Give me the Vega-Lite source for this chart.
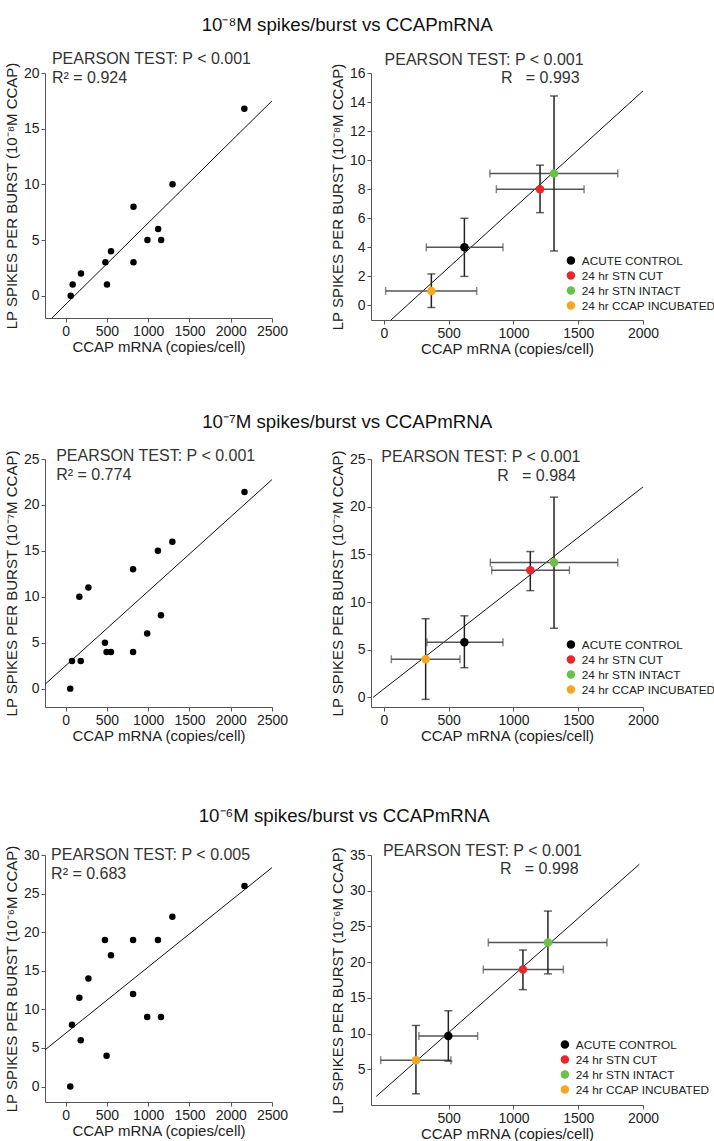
{
  "$schema": "https://vega.github.io/schema/vega-lite/v6.json",
  "background": "white",
  "padding": {"left": 4, "top": 15, "right": 0, "bottom": 0},
  "config": {
    "font": "Liberation Sans",
    "view": {"stroke": null},
    "axis": {"grid": false, "domainColor": "#555", "tickColor": "#555", "labelColor": "#222", "titleColor": "#222", "labelFontSize": 14, "titleFontSize": 15, "titleFontWeight": "normal", "tickSize": 4, "labelPadding": 2, "format": "d", "labelFlush": false, "labelOverlap": false},
    "axisX": {"titlePadding": 1},
    "title": {"fontSize": 18.7, "fontWeight": "normal", "color": "#111", "anchor": "middle", "offset": 17, "dx": -13},
    "legend": {"orient": "none", "labelFontSize": 11.8, "labelColor": "#222", "symbolType": "circle", "symbolSize": 72, "symbolStrokeWidth": 0, "clipHeight": 15, "rowPadding": 0, "labelOffset": 5},
    "text": {"font": "Liberation Sans"}
  },
  "spacing": 56,
  "resolve": {"scale": {"color": "independent"}, "legend": {"color": "independent"}},
  "vconcat": [
    {
      "title": "10⁻⁸M spikes/burst vs CCAPmRNA",
      "spacing": 42,
      "resolve": {"scale": {"color": "independent"}, "legend": {"color": "independent"}},
      "hconcat": [
        {
          "width": 227, "height": 245,
          "encoding": {
            "x": {"field": "x", "type": "quantitative", "title": "CCAP mRNA (copies/cell)", "scale": {"domain": [-250, 2500], "nice": false, "zero": false}, "axis": {"values": [0, 500, 1000, 1500, 2000, 2500]}},
            "y": {"field": "y", "type": "quantitative", "title": "LP SPIKES PER BURST (10⁻⁸M CCAP)", "scale": {"domain": [-2, 20], "nice": false, "zero": false}, "axis": {"values": [0, 5, 10, 15, 20]}}
          },
          "layer": [
            {"data": {"values": [{"x": -166, "y": -2}, {"x": 2500, "y": 17.5}]}, "mark": {"type": "line", "color": "#111", "strokeWidth": 1}, "encoding": {}},
            {"data": {"values": [
              {"x": 61, "y": 0}, {"x": 85, "y": 1}, {"x": 186, "y": 2}, {"x": 482, "y": 3}, {"x": 501, "y": 1}, {"x": 550, "y": 4}, {"x": 822, "y": 8}, {"x": 822, "y": 3}, {"x": 991, "y": 5}, {"x": 1121, "y": 6}, {"x": 1157, "y": 5}, {"x": 1295, "y": 10}, {"x": 2165, "y": 16.8}
            ]}, "mark": {"type": "circle", "size": 42, "color": "#000", "opacity": 1}, "encoding": {}},
            {"data": {"values": [{"x": -166, "y": 20.78, "t": "PEARSON TEST: P < 0.001"}, {"x": -166, "y": 19.13, "t": "R² = 0.924"}]},
             "mark": {"type": "text", "align": "left", "baseline": "alphabetic", "fontSize": 16, "color": "#333", "clip": false},
             "encoding": {"text": {"field": "t"}}}
          ]
        },
        {
          "width": 272, "height": 247,
          "encoding": {
            "x": {"field": "x", "type": "quantitative", "title": "CCAP mRNA (copies/cell)", "scale": {"domain": [-100, 2000], "nice": false, "zero": false}, "axis": {"values": [0, 500, 1000, 1500, 2000]}},
            "y": {"field": "y", "type": "quantitative", "title": "LP SPIKES PER BURST (10⁻⁸M CCAP)", "scale": {"domain": [-1, 16], "nice": false, "zero": false}, "axis": {"values": [0, 2, 4, 6, 8, 10, 12, 14, 16]}}
          },
          "layer": [
            {"data": {"values": [{"x": 54, "y": -1}, {"x": 2000, "y": 14.77}]}, "mark": {"type": "line", "color": "#111", "strokeWidth": 1}, "encoding": {}},
            {"data": {"values": [
              {"g": "ACUTE CONTROL", "x": 621, "y": 4, "xlo": 327, "xhi": 919, "ylo": 2, "yhi": 6},
              {"g": "24 hr STN CUT", "x": 1205, "y": 8, "xlo": 868, "xhi": 1545, "ylo": 6.39, "yhi": 9.66},
              {"g": "24 hr STN INTACT", "x": 1313, "y": 9.09, "xlo": 818, "xhi": 1805, "ylo": 3.75, "yhi": 14.42},
              {"g": "24 hr CCAP INCUBATED", "x": 366, "y": 1, "xlo": 13, "xhi": 716, "ylo": -0.14, "yhi": 2.17}
            ]},
             "layer": [
              {"mark": {"type": "errorbar", "ticks": true, "size": 8, "thickness": 1.5, "color": "#555"},
               "encoding": {"x": {"field": "xlo", "type": "quantitative", "title": "CCAP mRNA (copies/cell)"}, "x2": {"field": "xhi"}}},
              {"mark": {"type": "errorbar", "ticks": true, "size": 8, "thickness": 1.5, "color": "#222"},
               "encoding": {"y": {"field": "ylo", "type": "quantitative", "title": "LP SPIKES PER BURST (10⁻⁸M CCAP)"}, "y2": {"field": "yhi"}}},
              {"mark": {"type": "circle", "size": 72, "opacity": 1},
               "encoding": {"color": {"field": "g", "type": "nominal", "scale": {"domain": ["ACUTE CONTROL", "24 hr STN CUT", "24 hr STN INTACT", "24 hr CCAP INCUBATED"], "range": ["#000000", "#e8262b", "#6cbf4a", "#f6a623"]}, "legend": {"title": null, "legendX": 194, "legendY": 180}}}}
             ]},
            {"data": {"values": [{"x": 5, "y": 16.52, "t": "PEARSON TEST: P < 0.001"}]},
             "mark": {"type": "text", "align": "left", "baseline": "alphabetic", "fontSize": 16, "color": "#333", "clip": false},
             "encoding": {"text": {"field": "t"}}},
            {"data": {"values": [{"x": 1511, "y": 15.28, "t": "R\u00a0\u00a0 = 0.993"}]},
             "mark": {"type": "text", "align": "right", "baseline": "alphabetic", "fontSize": 16, "color": "#333", "clip": false},
             "encoding": {"text": {"field": "t"}}}
          ]
        }
      ]
    },
    {
      "spacing": 64,
      "resolve": {"scale": {"color": "independent"}, "legend": {"color": "independent"}},
      "vconcat": [
        {
          "title": "10⁻⁷M spikes/burst vs CCAPmRNA",
          "spacing": 42,
          "resolve": {"scale": {"color": "independent"}, "legend": {"color": "independent"}},
          "hconcat": [
            {
              "width": 227, "height": 248,
              "encoding": {
                "x": {"field": "x", "type": "quantitative", "title": "CCAP mRNA (copies/cell)", "scale": {"domain": [-250, 2500], "nice": false, "zero": false}, "axis": {"values": [0, 500, 1000, 1500, 2000, 2500]}},
                "y": {"field": "y", "type": "quantitative", "title": "LP SPIKES PER BURST (10⁻⁷M CCAP)", "scale": {"domain": [-2, 25], "nice": false, "zero": false}, "axis": {"values": [0, 5, 10, 15, 20, 25]}}
              },
              "layer": [
                {"data": {"values": [{"x": -250, "y": 0.47}, {"x": 2500, "y": 22.76}]}, "mark": {"type": "line", "color": "#111", "strokeWidth": 1}, "encoding": {}},
                {"data": {"values": [
                  {"x": 56, "y": 0}, {"x": 77, "y": 3}, {"x": 183, "y": 3}, {"x": 166, "y": 10}, {"x": 276, "y": 11}, {"x": 476, "y": 5}, {"x": 496, "y": 4}, {"x": 549, "y": 4}, {"x": 817, "y": 4}, {"x": 817, "y": 13}, {"x": 988, "y": 6}, {"x": 1118, "y": 15}, {"x": 1155, "y": 8}, {"x": 1293, "y": 16}, {"x": 2167, "y": 21.4}
                ]}, "mark": {"type": "circle", "size": 42, "color": "#000", "opacity": 1}, "encoding": {}},
                {"data": {"values": [{"x": -115, "y": 24.73, "t": "PEARSON TEST: P < 0.001"}, {"x": -115, "y": 22.72, "t": "R² = 0.774"}]},
                 "mark": {"type": "text", "align": "left", "baseline": "alphabetic", "fontSize": 16, "color": "#333", "clip": false},
                 "encoding": {"text": {"field": "t"}}}
              ]
            },
            {
              "width": 272, "height": 248,
              "encoding": {
                "x": {"field": "x", "type": "quantitative", "title": "CCAP mRNA (copies/cell)", "scale": {"domain": [-100, 2000], "nice": false, "zero": false}, "axis": {"values": [0, 500, 1000, 1500, 2000]}},
                "y": {"field": "y", "type": "quantitative", "title": "LP SPIKES PER BURST (10⁻⁷M CCAP)", "scale": {"domain": [-1, 25], "nice": false, "zero": false}, "axis": {"values": [0, 5, 10, 15, 20, 25]}}
              },
              "layer": [
                {"data": {"values": [{"x": -85, "y": 0}, {"x": 2000, "y": 22.07}]}, "mark": {"type": "line", "color": "#111", "strokeWidth": 1}, "encoding": {}},
                {"data": {"values": [
                  {"g": "ACUTE CONTROL", "x": 621, "y": 5.79, "xlo": 332, "xhi": 919, "ylo": 3.12, "yhi": 8.56},
                  {"g": "24 hr STN CUT", "x": 1130, "y": 13.34, "xlo": 832, "xhi": 1432, "ylo": 11.2, "yhi": 15.3},
                  {"g": "24 hr STN INTACT", "x": 1313, "y": 14.14, "xlo": 821, "xhi": 1805, "ylo": 7.26, "yhi": 21.0},
                  {"g": "24 hr CCAP INCUBATED", "x": 322, "y": 4.0, "xlo": 57, "xhi": 587, "ylo": -0.2, "yhi": 8.25}
                ]},
                 "layer": [
                  {"mark": {"type": "errorbar", "ticks": true, "size": 8, "thickness": 1.5, "color": "#555"},
                   "encoding": {"x": {"field": "xlo", "type": "quantitative", "title": "CCAP mRNA (copies/cell)"}, "x2": {"field": "xhi"}}},
                  {"mark": {"type": "errorbar", "ticks": true, "size": 8, "thickness": 1.5, "color": "#222"},
                   "encoding": {"y": {"field": "ylo", "type": "quantitative", "title": "LP SPIKES PER BURST (10⁻⁷M CCAP)"}, "y2": {"field": "yhi"}}},
                  {"mark": {"type": "circle", "size": 72, "opacity": 1},
                   "encoding": {"color": {"field": "g", "type": "nominal", "scale": {"domain": ["ACUTE CONTROL", "24 hr STN CUT", "24 hr STN INTACT", "24 hr CCAP INCUBATED"], "range": ["#000000", "#e8262b", "#6cbf4a", "#f6a623"]}, "legend": {"title": null, "legendX": 194, "legendY": 178}}}}
                 ]},
                {"data": {"values": [{"x": -20, "y": 24.66, "t": "PEARSON TEST: P < 0.001"}]},
                 "mark": {"type": "text", "align": "left", "baseline": "alphabetic", "fontSize": 16, "color": "#333", "clip": false},
                 "encoding": {"text": {"field": "t"}}},
                {"data": {"values": [{"x": 1482, "y": 22.74, "t": "R\u00a0\u00a0 = 0.984"}]},
                 "mark": {"type": "text", "align": "right", "baseline": "alphabetic", "fontSize": 16, "color": "#333", "clip": false},
                 "encoding": {"text": {"field": "t"}}}
              ]
            }
          ]
        },
        {
          "title": "10⁻⁶M spikes/burst vs CCAPmRNA",
          "spacing": 42,
          "resolve": {"scale": {"color": "independent"}, "legend": {"color": "independent"}},
          "hconcat": [
            {
              "width": 227, "height": 247,
              "encoding": {
                "x": {"field": "x", "type": "quantitative", "title": "CCAP mRNA (copies/cell)", "scale": {"domain": [-250, 2500], "nice": false, "zero": false}, "axis": {"values": [0, 500, 1000, 1500, 2000, 2500]}},
                "y": {"field": "y", "type": "quantitative", "title": "LP SPIKES PER BURST (10⁻⁶M CCAP)", "scale": {"domain": [-2, 30], "nice": false, "zero": false}, "axis": {"values": [0, 5, 10, 15, 20, 25, 30]}}
              },
              "layer": [
                {"data": {"values": [{"x": -250, "y": 4.75}, {"x": 2500, "y": 28.37}]}, "mark": {"type": "line", "color": "#111", "strokeWidth": 1}, "encoding": {}},
                {"data": {"values": [
                  {"x": 56, "y": 0}, {"x": 77, "y": 8}, {"x": 183, "y": 6}, {"x": 166, "y": 11.5}, {"x": 276, "y": 14}, {"x": 496, "y": 4}, {"x": 476, "y": 19}, {"x": 549, "y": 17}, {"x": 817, "y": 19}, {"x": 817, "y": 12}, {"x": 988, "y": 9}, {"x": 1118, "y": 19}, {"x": 1155, "y": 9}, {"x": 1293, "y": 22}, {"x": 2167, "y": 26}
                ]}, "mark": {"type": "circle", "size": 42, "color": "#000", "opacity": 1}, "encoding": {}},
                {"data": {"values": [{"x": -176, "y": 29.37, "t": "PEARSON TEST: P < 0.005"}, {"x": -176, "y": 26.95, "t": "R² = 0.683"}]},
                 "mark": {"type": "text", "align": "left", "baseline": "alphabetic", "fontSize": 16, "color": "#333", "clip": false},
                 "encoding": {"text": {"field": "t"}}}
              ]
            },
            {
              "width": 272, "height": 250,
              "encoding": {
                "x": {"field": "x", "type": "quantitative", "title": "CCAP mRNA (copies/cell)", "scale": {"domain": [-100, 2000], "nice": false, "zero": false}, "axis": {"values": [500, 1000, 1500, 2000]}},
                "y": {"field": "y", "type": "quantitative", "title": "LP SPIKES PER BURST (10⁻⁶M CCAP)", "scale": {"domain": [0, 35], "nice": false, "zero": false}, "axis": {"values": [5, 10, 15, 20, 25, 30, 35]}}
              },
              "layer": [
                {"data": {"values": [{"x": -60, "y": 1.2}, {"x": 1972, "y": 33.7}]}, "mark": {"type": "line", "color": "#111", "strokeWidth": 1}, "encoding": {}},
                {"data": {"values": [
                  {"g": "ACUTE CONTROL", "x": 497, "y": 9.66, "xlo": 270, "xhi": 723, "ylo": 6.14, "yhi": 13.19},
                  {"g": "24 hr STN CUT", "x": 1073, "y": 18.97, "xlo": 767, "xhi": 1385, "ylo": 16.15, "yhi": 21.7},
                  {"g": "24 hr STN INTACT", "x": 1266, "y": 22.74, "xlo": 806, "xhi": 1722, "ylo": 18.36, "yhi": 27.15},
                  {"g": "24 hr CCAP INCUBATED", "x": 247, "y": 6.28, "xlo": -25, "xhi": 517, "ylo": 1.57, "yhi": 11.13}
                ]},
                 "layer": [
                  {"mark": {"type": "errorbar", "ticks": true, "size": 8, "thickness": 1.5, "color": "#555"},
                   "encoding": {"x": {"field": "xlo", "type": "quantitative", "title": "CCAP mRNA (copies/cell)"}, "x2": {"field": "xhi"}}},
                  {"mark": {"type": "errorbar", "ticks": true, "size": 8, "thickness": 1.5, "color": "#222"},
                   "encoding": {"y": {"field": "ylo", "type": "quantitative", "title": "LP SPIKES PER BURST (10⁻⁶M CCAP)"}, "y2": {"field": "yhi"}}},
                  {"mark": {"type": "circle", "size": 72, "opacity": 1},
                   "encoding": {"color": {"field": "g", "type": "nominal", "scale": {"domain": ["ACUTE CONTROL", "24 hr STN CUT", "24 hr STN INTACT", "24 hr CCAP INCUBATED"], "range": ["#000000", "#e8262b", "#6cbf4a", "#f6a623"]}, "legend": {"title": null, "legendX": 188, "legendY": 182}}}}
                 ]},
                {"data": {"values": [{"x": -8, "y": 34.87, "t": "PEARSON TEST: P < 0.001"}]},
                 "mark": {"type": "text", "align": "left", "baseline": "alphabetic", "fontSize": 16, "color": "#333", "clip": false},
                 "encoding": {"text": {"field": "t"}}},
                {"data": {"values": [{"x": 1503, "y": 32.28, "t": "R\u00a0\u00a0 = 0.998"}]},
                 "mark": {"type": "text", "align": "right", "baseline": "alphabetic", "fontSize": 16, "color": "#333", "clip": false},
                 "encoding": {"text": {"field": "t"}}}
              ]
            }
          ]
        }
      ]
    }
  ]
}
